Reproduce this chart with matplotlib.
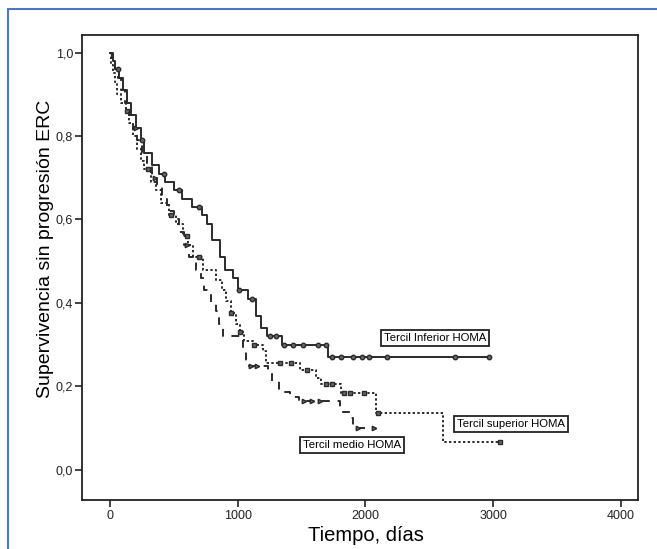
import matplotlib.pyplot as plt
import numpy as np
from matplotlib.patches import Rectangle

plt.rcParams["font.family"] = ["Liberation Sans", "DejaVu Sans"]

# Tercil inferior HOMA (solid)
inf_times = [0, 20, 40, 70, 100, 130, 165, 200, 240, 270, 330, 380, 430, 500,
             560, 640, 720, 760, 800, 860, 900, 960, 1000, 1080, 1140, 1180,
             1230, 1350, 1710]
inf_surv = [1.0, 0.98, 0.96, 0.94, 0.91, 0.88, 0.85, 0.82, 0.79, 0.76, 0.73,
            0.71, 0.69, 0.67, 0.65, 0.63, 0.61, 0.59, 0.55, 0.51, 0.48, 0.46,
            0.43, 0.41, 0.37, 0.34, 0.32, 0.30, 0.27]
inf_end = 2970
inf_cens = [60, 250, 420, 540, 700, 1010, 1110, 1250, 1300, 1360, 1430, 1510,
            1625, 1690, 1740, 1805, 1900, 1970, 2030, 2170, 2700, 2970]

# Tercil superior HOMA (dotted)
sup_times = [0, 10, 25, 40, 55, 90, 125, 150, 180, 210, 240, 270, 320, 360,
             400, 460, 520, 570, 610, 650, 730, 830, 880, 905, 945, 990, 1020,
             1050, 1120, 1195, 1220, 1490, 1610, 1650, 1805, 2086, 2610]
sup_surv = [1.0, 0.97, 0.95, 0.93, 0.90, 0.88, 0.86, 0.83, 0.80, 0.77, 0.74,
            0.72, 0.69, 0.67, 0.64, 0.61, 0.59, 0.56, 0.54, 0.51, 0.48, 0.455,
            0.43, 0.405, 0.375, 0.35, 0.33, 0.31, 0.30, 0.285, 0.256, 0.24,
            0.22, 0.205, 0.185, 0.137, 0.067]
sup_end = 3055
sup_cens = [130, 300, 480, 600, 700, 945, 1020, 1125, 1330, 1420, 1540, 1690,
            1740, 1835, 1880, 1985, 2100, 3055]

# Tercil medio HOMA (dashed)
med_times = [0, 15, 40, 60, 90, 120, 150, 180, 210, 250, 290, 330, 370, 410,
             450, 500, 540, 580, 620, 670, 710, 735, 790, 830, 855, 885, 1040,
             1065, 1240, 1270, 1320, 1410, 1480, 1800, 1875, 1900]
med_surv = [1.0, 0.98, 0.96, 0.94, 0.91, 0.88, 0.85, 0.82, 0.79, 0.76, 0.73,
            0.70, 0.68, 0.65, 0.62, 0.60, 0.57, 0.54, 0.51, 0.48, 0.46, 0.43,
            0.40, 0.38, 0.35, 0.32, 0.295, 0.25, 0.235, 0.213, 0.187, 0.175,
            0.165, 0.14, 0.125, 0.10]
med_end = 2080
med_cens = [200, 350, 600, 1100, 1150, 1520, 1580, 1640, 1940, 2070]


def draw_curve(ax, times, surv, end, cens, style, marker):
    t = np.append(times, end)
    s = np.append(surv, surv[-1])
    ax.step(t, s, where="post", color="#2b2b2b", lw=1.4, linestyle=style)
    idx = np.searchsorted(times, cens, side="right") - 1
    ax.plot(cens, np.array(surv)[idx], linestyle="none", marker=marker,
            ms=3.2, color="#2b2b2b", mfc="#666666", mew=1.0)


fig = plt.figure(figsize=(6.57, 5.49), dpi=100)
ax = fig.add_axes([82 / 657, 49 / 549, 556 / 657, 465 / 549])

draw_curve(ax, inf_times, inf_surv, inf_end, inf_cens, "-", "o")
draw_curve(ax, sup_times, sup_surv, sup_end, sup_cens, (0, (1.2, 1.2)), "s")
draw_curve(ax, med_times, med_surv, med_end, med_cens, (0, (4, 4)), ">")

ax.set_xlim(-219, 4133)
ax.set_ylim(-0.072, 1.042)
ax.set_xticks([0, 1000, 2000, 3000, 4000])
ax.set_yticks([0.0, 0.2, 0.4, 0.6, 0.8, 1.0])
ax.set_yticklabels(["0,0", "0,2", "0,4", "0,6", "0,8", "1,0"])
ax.tick_params(direction="out", length=5, width=1.2, labelsize=9,
               colors="#222222", pad=1.5)
ax.tick_params(axis="x", pad=2.5)
for sp in ax.spines.values():
    sp.set_linewidth(1.3)
    sp.set_color("#222222")

ax.set_xlabel("Tiempo, días", fontsize=14.5)
ax.set_ylabel("Supervivencia sin progresión ERC", fontsize=14)
ax.xaxis.set_label_coords(0.51, -0.055)
ax.yaxis.set_label_coords(-0.051, 0.54)

box = dict(boxstyle="square,pad=0.25", fc="white", ec="#222222", lw=1.3)
ax.text(2544, 0.316, "Tercil Inferior HOMA", fontsize=8.2, ha="center",
        va="center", bbox=box)
ax.text(3139, 0.11, "Tercil superior HOMA", fontsize=8.2, ha="center",
        va="center", bbox=box)
ax.text(1894, 0.06, "Tercil medio HOMA", fontsize=8.2, ha="center",
        va="center", bbox=box)

# blue frame around the figure
fig.patches.append(Rectangle((8 / 657, -0.05), 1.1, (549 - 9) / 549 + 0.05,
                             transform=fig.transFigure, fill=False,
                             ec="#4a78c2", lw=1.5))

fig.savefig("out.png", dpi=100)
